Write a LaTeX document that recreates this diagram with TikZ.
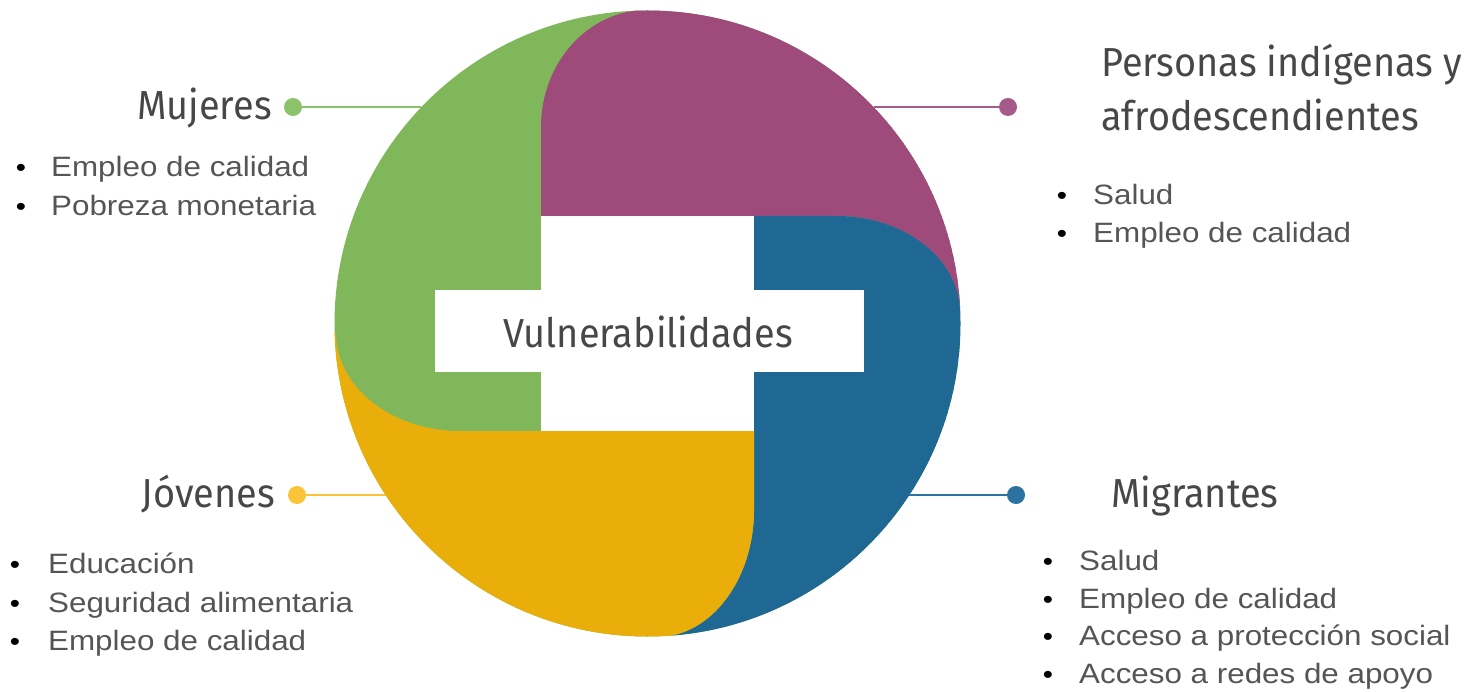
\documentclass[tikz,border=0pt]{standalone}
\usepackage{fontspec}
\setmainfont{Liberation Sans}[FakeStretch=1.12]
\newfontfamily\headfont{Fira Sans}[FakeStretch=0.935]
\definecolor{cgreen}{HTML}{80B75B}
\definecolor{cpurple}{HTML}{9E4A7B}
\definecolor{cblue}{HTML}{1E6893}
\definecolor{cyellow}{HTML}{EAAE0A}
\definecolor{lgreen}{HTML}{8CC36A}
\definecolor{lpurple}{HTML}{A65A87}
\definecolor{lyellow}{HTML}{FBC33A}
\definecolor{lblue}{HTML}{2B72A0}
\definecolor{txt}{HTML}{555555}
\definecolor{headc}{HTML}{474747}
\tikzset{
  headtxt/.style={inner sep=0pt, text=headc, font=\headfont\fontsize{40.5}{48}\selectfont},
  itemtxt/.style={inner sep=0pt, anchor=base west, text=txt, font=\fontsize{28}{32}\selectfont},
  bultxt/.style={inner sep=0pt, anchor=base, text=black, font=\fontsize{26}{32}\selectfont},
  dotmark/.style={circle, inner sep=0pt, minimum size=18pt},
  link/.style={line width=2pt}
}
\begin{document}
\begin{tikzpicture}[x=1pt,y=-1pt]
\useasboundingbox (0,0) rectangle (1466,692);
% connectors and dots
\coordinate (cm) at (421,107);
\coordinate (cp) at (874,107);
\coordinate (cj) at (386,495);
\coordinate (cg) at (909,495);
\node[dotmark, fill=lgreen] (dm) at (293,107) {};
\node[dotmark, fill=lpurple] (dp) at (1008,107) {};
\node[dotmark, fill=lyellow] (dj) at (297,495) {};
\node[dotmark, fill=lblue] (dg) at (1016,495) {};
\draw[link, lgreen] (dm) -- (cm);
\draw[link, lpurple] (dp) -- (cp);
\draw[link, lyellow] (dj) -- (cj);
\draw[link, lblue] (dg) -- (cg);
% circle
\begin{scope}
\clip (647.5,323.5) circle[radius=313];
\fill[cgreen] (647.5,323.5) circle[radius=313];
\fill[cpurple] (541,216) -- (541,127) .. controls (541,62.4) and (588.5,10) .. (647,10)
  -- (647,-50) -- (1050,-50) -- (1050,313) -- (960,313)
  .. controls (960,259.4) and (904.9,216) .. (837,216) -- cycle;
\fill[cblue] (754,216) -- (837,216) .. controls (904.9,216) and (960,259.4) .. (960,313)
  -- (1050,313) -- (1050,720) -- (657,720) -- (657,637)
  .. controls (710.6,637) and (754,580.1) .. (754,510) -- cycle;
\fill[cyellow] (754,431) -- (754,510) .. controls (754,580.1) and (710.6,637) .. (657,637)
  -- (657,720) -- (250,720) -- (250,333) -- (336,333)
  .. controls (336,387.1) and (391.5,431) .. (460,431) -- cycle;
\end{scope}
\fill[white] (541,216) rectangle (754,431);
\fill[white] (435,290) rectangle (864,372);
\node[headtxt, anchor=base] (center) at (648,347) {Vulnerabilidades};
% headings
\node[headtxt, anchor=base east] (hm) at (272,120) {Mujeres};
\node[headtxt, anchor=base east] (hj) at (275,507) {Jóvenes};
\node[headtxt, anchor=base west] (hg) at (1111,507) {Migrantes};
\node[headtxt, anchor=base west] (hp1) at (1101,77) {Personas indígenas y};
\node[headtxt, anchor=base west] (hp2) at (1101,131) {afrodescendientes};
% items
\node[bultxt] (m1b) at (21,177) {•};
\node[itemtxt] (m1) at (51,177) {Empleo de calidad};
\node[bultxt] (m2b) at (21,216) {•};
\node[itemtxt] (m2) at (51,216) {Pobreza monetaria};
\node[bultxt] (p1b) at (1062,205) {•};
\node[itemtxt] (p1) at (1093,205) {Salud};
\node[bultxt] (p2b) at (1062,243) {•};
\node[itemtxt] (p2) at (1093,243) {Empleo de calidad};
\node[bultxt] (j1b) at (15,573) {•};
\node[itemtxt] (j1) at (48,573) {Educación};
\node[bultxt] (j2b) at (15,612) {•};
\node[itemtxt] (j2) at (48,612) {Seguridad alimentaria};
\node[bultxt] (j3b) at (15,650) {•};
\node[itemtxt] (j3) at (48,650) {Empleo de calidad};
\node[bultxt] (g1b) at (1048,570) {•};
\node[itemtxt] (g1) at (1079,570) {Salud};
\node[bultxt] (g2b) at (1048,608) {•};
\node[itemtxt] (g2) at (1079,608) {Empleo de calidad};
\node[bultxt] (g3b) at (1048,645) {•};
\node[itemtxt] (g3) at (1079,645) {Acceso a protección social};
\node[bultxt] (g4b) at (1048,683) {•};
\node[itemtxt] (g4) at (1079,683) {Acceso a redes de apoyo};
\end{tikzpicture}
\end{document}
